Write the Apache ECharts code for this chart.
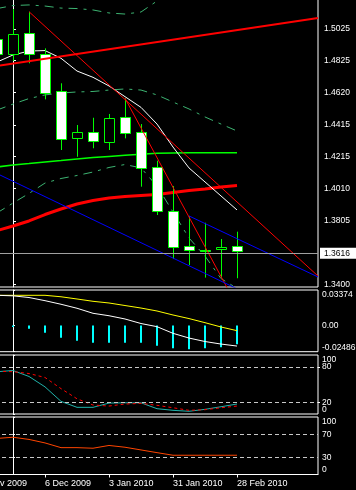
<!DOCTYPE html>
<html><head><meta charset="utf-8">
<script src="https://cdn.jsdelivr.net/npm/echarts@6/dist/echarts.min.js"></script>
<style>html,body{margin:0;padding:0;background:#000;}#c{width:356px;height:490px;}</style>
</head><body><div id="c"></div>
<script>
// weekly bars; x position of weeks[i] is i-1
const weeks = ['15 Nov 2009','22 Nov 2009','29 Nov 2009','6 Dec 2009','13 Dec 2009','20 Dec 2009','27 Dec 2009','3 Jan 2010','10 Jan 2010','17 Jan 2010','24 Jan 2010','31 Jan 2010','7 Feb 2010','14 Feb 2010','21 Feb 2010','28 Feb 2010'];
const openP  = [1.4960,1.4864,1.4998,1.4864,1.4631,1.4330,1.4369,1.4310,1.4464,1.4369,1.4146,1.3868,1.3646,1.3621,1.3625,1.3646];
const closeP = [1.4866,1.4991,1.4864,1.4616,1.4324,1.4369,1.4313,1.4458,1.4362,1.4144,1.3868,1.3638,1.3619,1.3617,1.3640,1.3616];
const lowP   = [1.4815,1.4822,1.4807,1.4578,1.4256,1.4213,1.4267,1.4256,1.4330,1.4023,1.3843,1.3563,1.3525,1.3445,1.3447,1.3441];
const highP  = [1.5019,1.5152,1.5135,1.4902,1.4680,1.4415,1.4461,1.4485,1.4585,1.4421,1.4188,1.4027,1.3837,1.3794,1.3690,1.3737];

const maWhite = [1.4815,1.4860,1.4885,1.4888,1.4839,1.4758,1.4718,1.4663,1.4595,1.4527,1.4421,1.4275,1.4142,1.4053,1.3964,1.3875];
const maRed   = [1.3744,1.3773,1.3805,1.3846,1.3881,1.3913,1.3935,1.3951,1.3961,1.3967,1.3973,1.3986,1.3999,1.4008,1.4021,1.4030];
const maGreen = [1.4148,1.4161,1.4170,1.4180,1.4189,1.4199,1.4208,1.4215,1.4222,1.4229,1.4235,1.4237,1.4238,1.4239,1.4239,1.4239];
const bbUpper  = [1.5155,1.5174,1.5178,1.5171,1.5158,1.5155,1.5146,1.5127,1.5120,1.5133,1.5203,1.5260,1.5336,1.5349,1.5403,1.5376];
const bbMiddle = [1.4510,1.4548,1.4583,1.4606,1.4618,1.4625,1.4628,1.4637,1.4644,1.4637,1.4606,1.4561,1.4517,1.4466,1.4421,1.4377];
const bbLower  = [1.3856,1.3919,1.3980,1.4046,1.4075,1.4094,1.4116,1.4145,1.4164,1.4142,1.4027,1.3862,1.3697,1.3582,1.3439,1.3377];

// trend lines: [x index, price]
const trendRedLong  = [[1,1.5135],[19.0625,1.3455]];
const trendRedSteep = [[7,1.4585],[14,1.3264]];
const trendRedUp    = [[-0.8125,1.4793],[19.0625,1.5095]];
const trendBlueLow  = [[-2,1.4155],[14,1.3374]];
const trendBlueUp   = [[11,1.3837],[19.0625,1.3449]];
const bidPrice = 1.3616;

const macdHist   = [-0.0008,-0.0014,-0.0030,-0.0068,-0.0116,-0.0144,-0.0163,-0.0163,-0.0163,-0.0163,-0.0192,-0.0217,-0.0226,-0.0217,-0.0207,-0.0179];
const macdMain   = [0.0287,0.0282,0.0266,0.0236,0.0202,0.0164,0.0116,0.0093,0.0062,0.0019,-0.0011,-0.0074,-0.0119,-0.0152,-0.0176,-0.0195];
const macdSignal = [0.0287,0.0287,0.0287,0.0287,0.0273,0.0252,0.0230,0.0214,0.0190,0.0166,0.0138,0.0100,0.0066,0.0027,-0.0014,-0.0049];

const stochMain   = [71.7,73.7,63.6,46,21.4,11.3,11.3,18.5,19,19,9,6.2,4.6,7.9,12.3,16.9];
const stochSignal = [72.5,71.7,68.6,61.9,43,25.8,15.2,13.5,16.9,18,14.7,10.6,6.2,7.3,10.6,13.5];
const rsi = [62.7,64.8,61,54.9,46.7,46.7,45.7,50.5,47.4,42.7,38,33.5,33.5,33.5,33.5,33.5];

const dateTickPos = [-2,2,6,10,14];
const dateTickLabels = ['8 Nov 2009','6 Dec 2009','3 Jan 2010','31 Jan 2010','28 Feb 2010'];
const priceTicks = [1.3400,1.3805,1.4010,1.4215,1.4415,1.4620,1.4825,1.5025];
const macdTicks = [-0.02486,0,0.03374];
const stochEdgeTicks = [0,100];
const stochLevels = [20,80];
const rsiTicks = [0,30,70,100];
const rsiLevels = [30,70];

const X_MIN = -2, X_MAX = 19.0625;
const FONT = 'Liberation Sans, Arial, sans-serif';
const xy = arr => arr.map((v,i)=>[i-1, v]);

const chart = echarts.init(document.getElementById('c'), null, {renderer:'canvas'});

function gridOf(top, height){
  return {left:-19, right:38, top:top, height:height, show:true, borderColor:'#fff', borderWidth:1,
    backgroundColor:'transparent', containLabel:false, outerBoundsMode:'none'};
}
function hiddenX(idx){
  return {type:'value', gridIndex:idx, min:X_MIN, max:X_MAX, show:false, splitLine:{show:false}};
}
function subY(idx, min, max, ticks, fmt, fs, showLine){
  return {type:'value', gridIndex:idx, position:'right', min:min, max:max,
    axisLine:{show:showLine!==false, lineStyle:{color:'#fff'}},
    axisTick:{show:true, length:2, lineStyle:{color:'#fff'}, customValues:ticks},
    axisLabel:{show:true, customValues:ticks, color:'#fff', fontSize:fs, fontFamily:FONT, margin:4,
      showMinLabel:true, showMaxLabel:true, hideOverlap:false,
      formatter:fmt, verticalAlignMinLabel:'bottom', verticalAlignMaxLabel:'top'},
    splitLine:{show:false}};
}
function lineS(data, color, width, xi, yi, type, z){
  return {type:'line', xAxisIndex:xi, yAxisIndex:yi, data:data, symbol:'none', silent:true, z:z||2,
    lineStyle:{color:color, width:width, type:type||'solid'}, animation:false};
}
function levelLines(vals){
  return {silent:true, symbol:['none','none'], animation:false, label:{show:false},
    lineStyle:{color:'#c8c8c8', type:[4,3], width:1}, data:vals.map(v=>({yAxis:v}))};
}

const candleData = weeks.map((w,i)=>[i-1, openP[i], closeP[i], lowP[i], highP[i]]);
const levelAxis = subY(2, 0, 100, stochLevels, v=>String(Math.round(v)), 8.5, false);
levelAxis.axisLabel.verticalAlignMinLabel = 'middle';
levelAxis.axisLabel.verticalAlignMaxLabel = 'middle';

const option = {
  backgroundColor:'#000',
  animation:false,
  textStyle:{fontFamily:FONT},
  grid:[gridOf(-1,288), gridOf(290,61.7), gridOf(355,59), gridOf(417,57.5)],
  xAxis:[hiddenX(0), hiddenX(1), hiddenX(2),
    {type:'value', gridIndex:3, min:X_MIN, max:X_MAX, position:'bottom',
      axisLine:{show:true, lineStyle:{color:'#fff'}},
      axisTick:{show:true, length:3, lineStyle:{color:'#fff'}, customValues:dateTickPos},
      axisLabel:{show:true, customValues:dateTickPos, color:'#fff', fontSize:9, fontFamily:FONT, margin:5, align:'left',
        showMinLabel:true, hideOverlap:false,
        formatter:v=>{const i=dateTickPos.indexOf(Math.round(v)); return i>=0?dateTickLabels[i]:'';}},
      splitLine:{show:false}}],
  yAxis:[
    {type:'value', gridIndex:0, position:'right', min:1.33854, max:1.52157,
      axisLine:{show:true, lineStyle:{color:'#fff'}},
      axisTick:{show:true, length:3, lineStyle:{color:'#fff'}, customValues:priceTicks},
      axisLabel:{show:true, customValues:priceTicks, color:'#fff', fontSize:8.5, fontFamily:FONT, margin:6,
        showMinLabel:true, showMaxLabel:true, formatter:v=>v.toFixed(4)},
      splitLine:{show:false}},
    subY(1, -0.02486, 0.03374, macdTicks, v=>Math.abs(v)<1e-9?'0.00':v.toFixed(5), 8.5),
    subY(2, 0, 100, stochEdgeTicks, v=>String(Math.round(v)), 8.5),
    subY(3, 0, 100, rsiTicks, v=>String(Math.round(v)), 8.5),
    levelAxis
  ],
  series:[
    lineS(xy(bbUpper), '#3cb371', 1, 0, 0, [9,6,3,6], 1),
    lineS(xy(bbMiddle), '#3cb371', 1, 0, 0, [9,6,3,6], 1),
    lineS(xy(bbLower), '#3cb371', 1, 0, 0, [9,6,3,6], 1),
    lineS(xy(maRed), '#ff0000', 3, 0, 0, 'solid', 2),
    lineS(xy(maGreen), '#00ff00', 1.5, 0, 0, 'solid', 2),
    lineS(xy(maWhite), '#ffffff', 1, 0, 0, 'solid', 2),
    {type:'custom', xAxisIndex:0, yAxisIndex:0, data:candleData, z:3, silent:true, animation:false,
      encode:{x:0, y:[1,2,3,4]},
      renderItem:function(params, api){
        const x=api.value(0), o=api.value(1), c=api.value(2), l=api.value(3), h=api.value(4);
        const pO=api.coord([x,o]), pC=api.coord([x,c]), pL=api.coord([x,l]), pH=api.coord([x,h]);
        const cx=Math.round(pO[0])+0.5;
        let top=Math.round(Math.min(pO[1],pC[1]))+0.5, bot=Math.round(Math.max(pO[1],pC[1]))+0.5;
        if (bot-top<1) bot=top+1;
        return {type:'group', children:[
          {type:'line', shape:{x1:cx,y1:pH[1],x2:cx,y2:pL[1]}, style:{stroke:'#00ff00', lineWidth:1}},
          {type:'rect', shape:{x:cx-5, y:top, width:10, height:bot-top}, style:{fill:c<o?'#ffffff':'#000000', stroke:'#00ff00', lineWidth:1}}
        ]};
      }},
    lineS(trendRedLong, '#ff0000', 1, 0, 0, 'solid', 4),
    lineS(trendRedSteep, '#ff0000', 1, 0, 0, 'solid', 4),
    lineS(trendRedUp, '#ff0000', 2, 0, 0, 'solid', 4),
    lineS(trendBlueLow, '#0000ff', 1, 0, 0, 'solid', 4),
    lineS(trendBlueUp, '#0000ff', 1, 0, 0, 'solid', 4),
    {type:'line', xAxisIndex:0, yAxisIndex:0, data:[], z:5, silent:true, animation:false,
      markLine:{silent:true, symbol:['none','none'], animation:false,
        lineStyle:{color:'#a0a0a0', type:'solid', width:1},
        label:{show:true, position:'end', distance:2, formatter:()=>bidPrice.toFixed(4), color:'#000', backgroundColor:'#fff',
          fontSize:8.5, fontFamily:FONT, padding:[1,8,1,4]},
        data:[{yAxis:bidPrice}]}},
    {type:'bar', xAxisIndex:1, yAxisIndex:1, data:xy(macdHist), barWidth:2, itemStyle:{color:'#00ffff'}, silent:true, animation:false},
    lineS(xy(macdSignal), '#ffff00', 1, 1, 1),
    lineS(xy(macdMain), '#ffffff', 1, 1, 1),
    Object.assign(lineS(xy(stochMain), '#20b2aa', 1, 2, 2), {markLine:levelLines(stochLevels)}),
    lineS(xy(stochSignal), '#ff0000', 1, 2, 2, [3,3]),
    Object.assign(lineS(xy(rsi), '#ff4500', 1, 3, 3), {markLine:levelLines(rsiLevels)})
  ]
};
chart.setOption(option);
</script></body></html>
